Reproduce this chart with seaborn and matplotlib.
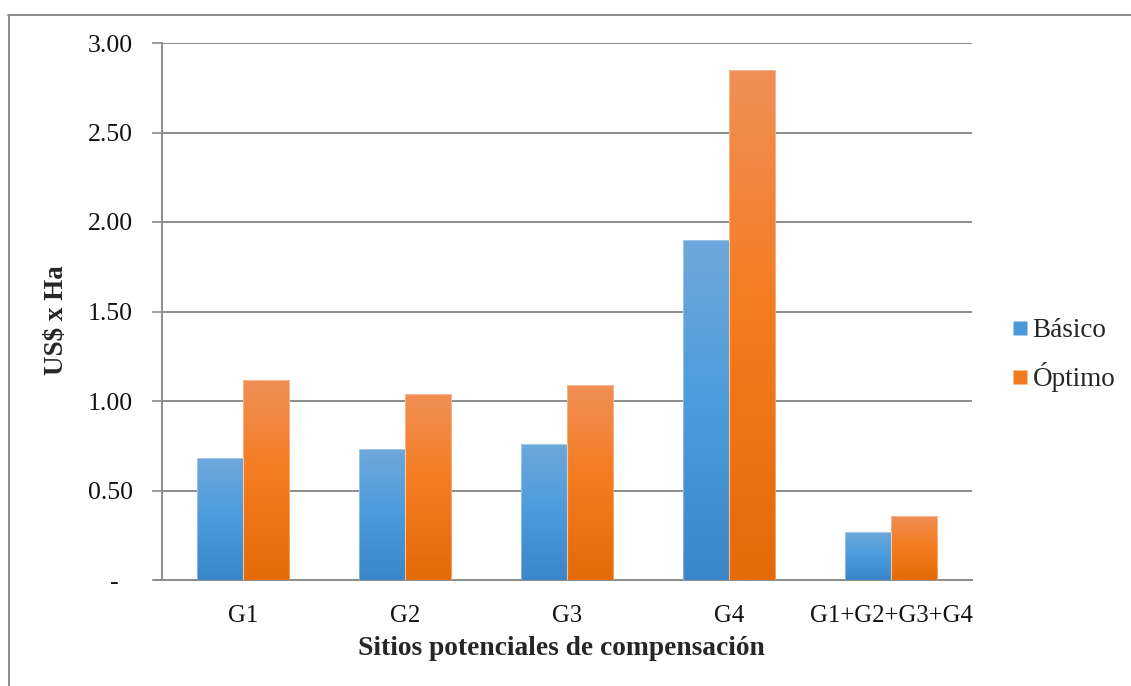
import numpy as np
import pandas as pd
import matplotlib
matplotlib.use("Agg")
import matplotlib.pyplot as plt
from matplotlib.colors import LinearSegmentedColormap
from matplotlib.lines import Line2D
import seaborn as sns

# Sites and cost per hectare for each scenario
sitios = ["G1", "G2", "G3", "G4", "G1+G2+G3+G4"]
basico = [0.68, 0.73, 0.76, 1.90, 0.27]
optimo = [1.12, 1.04, 1.09, 2.85, 0.36]
escenarios = ["Básico", "Óptimo"]
y_ticks = [0.0, 0.5, 1.0, 1.5, 2.0, 2.5, 3.0]
y_tick_labels = ["-", "0.50", "1.00", "1.50", "2.00", "2.50", "3.00"]

df = pd.DataFrame({
    "sitio": sitios * 2,
    "valor": basico + optimo,
    "escenario": [escenarios[0]] * len(sitios) + [escenarios[1]] * len(sitios),
})

sns.set_theme(style="white")
plt.rcParams["font.family"] = ["Liberation Serif", "DejaVu Serif"]

base_colors = {"Básico": "#4a9ad9", "Óptimo": "#f27b1e"}
gradients = {
    "Básico": LinearSegmentedColormap.from_list(
        "bas", ["#3a86c8", "#4b9bdc", "#6ea8db"]),
    "Óptimo": LinearSegmentedColormap.from_list(
        "opt", ["#e46a08", "#f47b1e", "#f08f55"]),
}

fig = plt.figure(figsize=(11.31, 6.86), dpi=100)
ax = fig.add_axes([162 / 1131, 1 - 580 / 686, 810 / 1131, 537 / 686])

sns.barplot(data=df, x="sitio", y="valor", hue="escenario", order=sitios,
            hue_order=escenarios, palette=base_colors, width=0.568,
            saturation=1, edgecolor="none", legend=False, ax=ax, zorder=3)

# vertical gradient fill clipped to each bar
grad = np.linspace(0, 1, 256).reshape(-1, 1)
for container, esc in zip(ax.containers, escenarios):
    for patch in container.patches:
        x0, y0 = patch.get_x(), patch.get_y()
        w, h = patch.get_width(), patch.get_height()
        im = ax.imshow(grad, cmap=gradients[esc], origin="lower", aspect="auto",
                       extent=[x0, x0 + w, y0, y0 + h], zorder=4)
        im.set_clip_path(patch)
        ax.add_patch(plt.Rectangle((x0, y0), w, h, fill=False,
                                   edgecolor=(1, 1, 1, 0.35), linewidth=0.8,
                                   zorder=5))
ax.set_xlim(-0.5, len(sitios) - 0.5)
ax.set_ylim(0, 3.0)

# axes, grid and ticks
ax.set_yticks(y_ticks)
ax.set_yticklabels(y_tick_labels, fontsize=18.5)
ax.tick_params(axis="y", which="both", left=True, length=7, width=1.2,
               color="#8c8c8c", pad=14)
ax.tick_params(axis="x", bottom=False, labelsize=17.8, pad=12)
# the zero label sits further left, as in accounting number format
ax.yaxis.get_major_ticks()[0].set_pad(24)
ax.yaxis.grid(True, color="#8c8c8c", linewidth=1.4, zorder=1)
ax.xaxis.grid(False)
for side in ["top", "right"]:
    ax.spines[side].set_visible(False)
for side in ["left", "bottom"]:
    ax.spines[side].set_color("#8c8c8c")
    ax.spines[side].set_linewidth(1.4)
ax.spines["bottom"].set_bounds(-0.5 - 7 / 162, len(sitios) - 0.5)
for lab in ax.get_yticklabels() + ax.get_xticklabels():
    lab.set_color("#111111")

ax.set_xlabel("Sitios potenciales de compensación", fontsize=19.8,
              fontweight="bold")
ax.xaxis.set_label_coords((561.5 - 162) / 810, -(636 - 580) / 537)
ax.set_ylabel("US$ x Ha", fontsize=19.5, fontweight="bold")
ax.yaxis.set_label_coords((69 - 162) / 810, (580 - 320) / 537)

handles = [Line2D([], [], marker="s", linestyle="none", markersize=10,
                  markerfacecolor=base_colors[e], markeredgecolor="none")
           for e in escenarios]
fig.legend(handles, escenarios, loc="center left",
           bbox_to_anchor=(985 / 1131, 1 - 355 / 686), frameon=False,
           fontsize=19.5, handletextpad=0.05, labelspacing=0.7,
           handlelength=0.8)

# chart frame (top and left edges)
fig.add_artist(Line2D([8 / 1131, 1.0], [1 - 14.5 / 686] * 2,
                      color="#8c8c8c", linewidth=1.4))
fig.add_artist(Line2D([8.5 / 1131] * 2, [0.0, 1 - 14.5 / 686],
                      color="#8c8c8c", linewidth=1.4))

fig.savefig("out.png", dpi=100)
